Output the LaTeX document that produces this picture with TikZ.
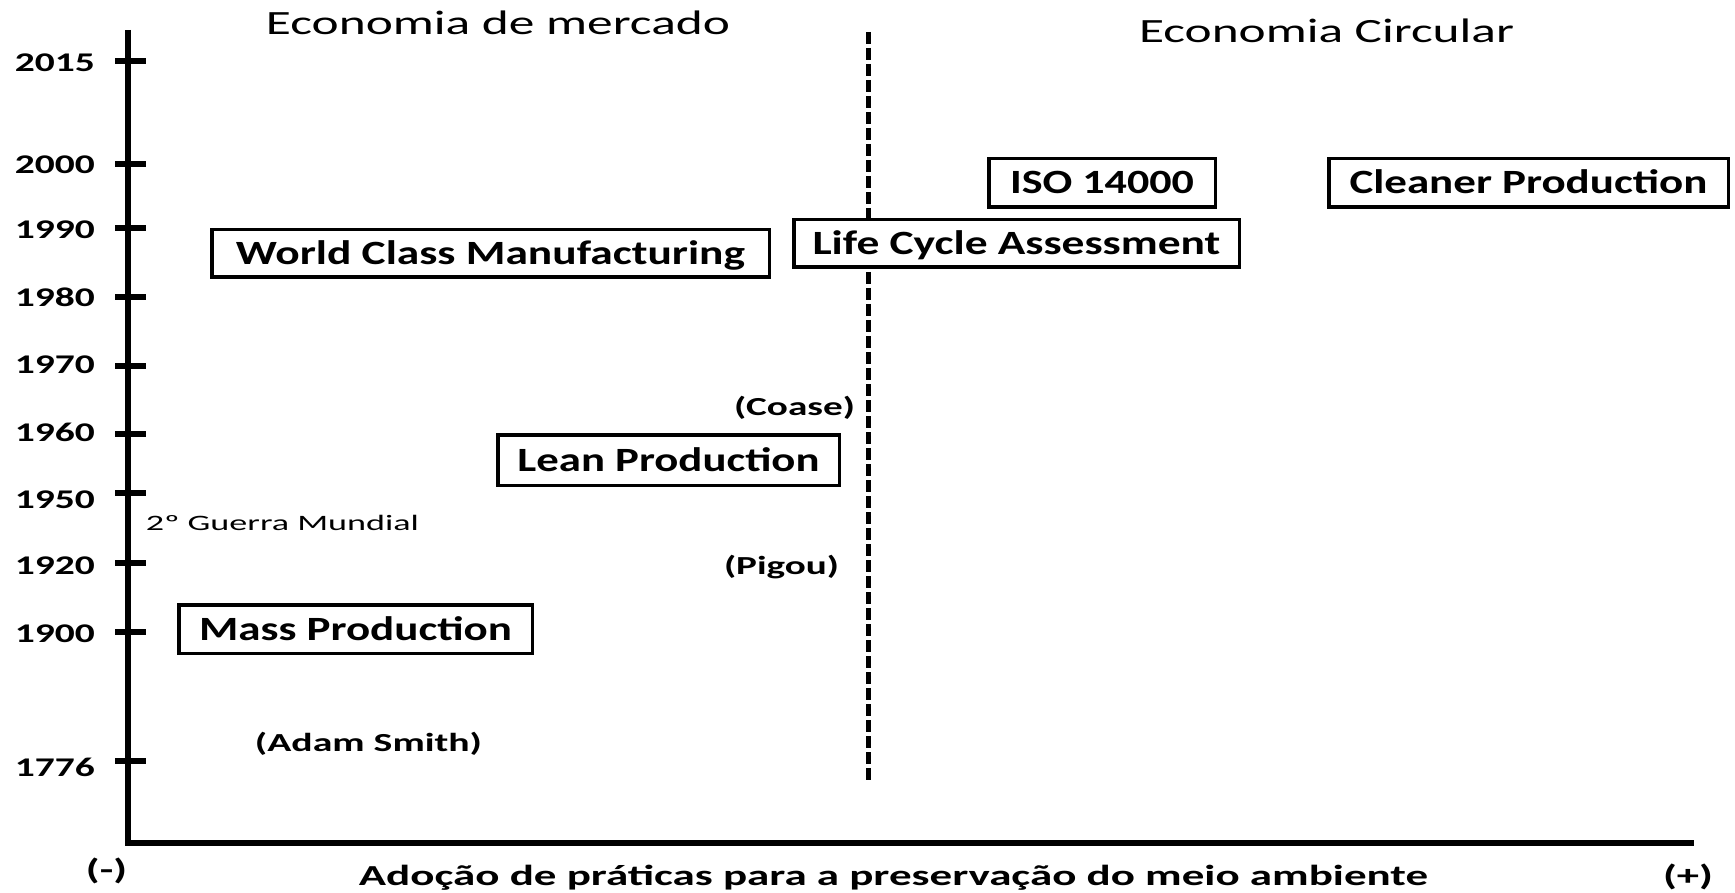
\documentclass[tikz,border=0pt]{standalone}
\usepackage{fontspec}
\setmainfont{Carlito}
\usepackage{graphicx}
\newcommand\fitw[2]{\resizebox{#1pt}{\height}{#2}}
\newcommand\boxfnt{\fontsize{34pt}{40pt}\selectfont\bfseries}
\newcommand\yearfnt{\fontsize{27pt}{32pt}\selectfont\bfseries}
\newcommand\namefnt{\fontsize{26pt}{31pt}\selectfont\bfseries}
\newcommand\headfnt{\fontsize{34pt}{40pt}\selectfont}
\newcommand\smallfnt{\fontsize{22pt}{26pt}\selectfont}
\newcommand\axisfnt{\fontsize{29pt}{34pt}\selectfont\bfseries}
\begin{document}
\begin{tikzpicture}[x=1pt,y=-1pt,
  boxnode/.style={draw, line width=3.5pt, fill=white, inner sep=0pt,
    text height=22pt, text depth=0pt, font=\boxfnt},
  yearlbl/.style={anchor=east, inner sep=0pt, text height=17pt, text depth=0pt, font=\yearfnt},
  namelbl/.style={inner sep=0pt, text height=16.7pt, text depth=0pt, font=\namefnt},
  headlbl/.style={inner sep=0pt, anchor=base, font=\headfnt},
  axislbl/.style={inner sep=0pt, anchor=base, font=\axisfnt},
  axisline/.style={line width=6pt},
  tickline/.style={line width=6pt},
  divider/.style={line width=5pt, dash pattern=on 12pt off 4pt}
]
\useasboundingbox (0,0) rectangle (1735,893);
\fill[white] (0,0) rectangle (1735,893);

% axes
\coordinate (top) at (128,30);
\coordinate (origin) at (128,843);
\coordinate (right) at (1694,843);
\draw[axisline] (top) -- (origin) -- (right);

% ticks and year labels
\foreach \yr/\ty/\ly in {2015/61/63, 2000/164/165, 1990/228/230, 1980/297/298,
  1970/366/365, 1960/434/433, 1950/493/500, 1920/563/566, 1900/632/634, 1776/761/768}{
  \coordinate (ta\yr) at (115,\ty);
  \coordinate (tb\yr) at (146,\ty);
  \draw[tickline] (ta\yr) -- (tb\yr);
  \node[yearlbl] (y\yr) at (95,\ly) {\fitw{80}{\yr}};
}

% divider
\coordinate (dtop) at (868,32);
\coordinate (dbot) at (868,780);
\draw[divider] (dtop) -- (dbot);

% headers
\node[headlbl] (hleft) at (498,35) {\fitw{464}{Economia de mercado}};
\node[headlbl] (hright) at (1326.5,43) {\fitw{375}{Economia Circular}};

% boxes
\node[boxnode, minimum width=557.5pt, minimum height=47.5pt] (wcm) at (490.5,253.5) {\fitw{509}{World Class Manufacturing}};
\node[boxnode, minimum width=445.5pt, minimum height=47.5pt] (lca) at (1016.5,243.5) {\fitw{408}{Life Cycle Assessment}};
\node[boxnode, minimum width=226.5pt, minimum height=48.5pt] (iso) at (1102,183) {\fitw{184}{ISO 14000}};
\node[boxnode, minimum width=399.5pt, minimum height=48.5pt] (cp) at (1528.5,183) {\fitw{358}{Cleaner Production}};
\node[boxnode, minimum width=341.5pt, minimum height=50.5pt] (lean) at (668.5,460) {\fitw{302}{Lean Production}};
\node[boxnode, minimum width=353.5pt, minimum height=48.5pt] (mass) at (355.5,629) {\fitw{313}{Mass Production}};

% names
\node[namelbl] (coase) at (794.5,407) {\fitw{121}{(Coase)}};
\node[namelbl] (pigou) at (781.5,566) {\fitw{115}{(Pigou)}};
\node[namelbl] (smith) at (368.5,743) {\fitw{227}{(Adam Smith)}};
\node[inner sep=0pt, text height=14pt, text depth=0pt, font=\smallfnt] (war) at (282.5,523) {\fitw{273}{2º Guerra Mundial}};

% axis labels
\node[axislbl] (minus) at (106.5,879) {\fitw{41}{(-)}};
\node[axislbl] (plus) at (1688,885) {\fitw{50}{(+)}};
\node[axislbl] (xlabel) at (893.5,885) {\fitw{1069}{Adoção de práticas para a preservação do meio ambiente}};
\end{tikzpicture}
\end{document}
